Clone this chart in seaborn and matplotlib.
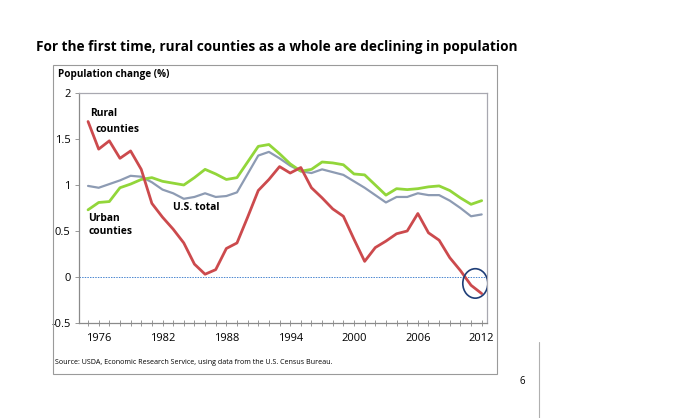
import numpy as np
import pandas as pd
import seaborn as sns
import matplotlib.pyplot as plt
from matplotlib.patches import Ellipse, Rectangle
from matplotlib.lines import Line2D

# DATA
years = list(range(1975, 2013))
rural = [1.69, 1.39, 1.48, 1.29, 1.37, 1.17, 0.80, 0.65, 0.52, 0.37,
         0.14, 0.03, 0.08, 0.31, 0.37, 0.65, 0.94, 1.06, 1.20, 1.13,
         1.19, 0.97, 0.86, 0.74, 0.66, 0.41, 0.17, 0.32, 0.39, 0.47,
         0.50, 0.69, 0.48, 0.40, 0.21, 0.07, -0.09, -0.18]
urban = [0.73, 0.81, 0.82, 0.97, 1.01, 1.06, 1.08, 1.04, 1.02, 1.00,
         1.08, 1.17, 1.12, 1.06, 1.08, 1.25, 1.42, 1.44, 1.34, 1.23,
         1.15, 1.17, 1.25, 1.24, 1.22, 1.12, 1.11, 1.00, 0.89, 0.96,
         0.95, 0.96, 0.98, 0.99, 0.94, 0.86, 0.79, 0.83]
us_total = [0.99, 0.97, 1.01, 1.05, 1.10, 1.09, 1.03, 0.95, 0.91, 0.85,
            0.87, 0.91, 0.87, 0.88, 0.92, 1.12, 1.32, 1.36, 1.29, 1.21,
            1.15, 1.13, 1.17, 1.14, 1.11, 1.04, 0.97, 0.89, 0.81, 0.87,
            0.87, 0.91, 0.89, 0.89, 0.83, 0.75, 0.66, 0.68]
year_labels = [1976, 1982, 1988, 1994, 2000, 2006, 2012]
y_ticks = [-0.5, 0, 0.5, 1, 1.5, 2]

df = pd.DataFrame({
    "year": years * 3,
    "change": us_total + urban + rural,
    "group": ["U.S. total"] * len(years) + ["Urban"] * len(years) + ["Rural"] * len(years),
})
palette = {"U.S. total": "#8D9BB3", "Urban": "#92D63A", "Rural": "#CC4A4D"}

sns.set_style("white")
plt.rcParams["font.family"] = ["Open Sans", "DejaVu Sans"]
plt.rcParams["text.color"] = "black"
plt.rcParams["xtick.color"] = "black"
plt.rcParams["ytick.color"] = "black"

W, H = 690, 418
fig = plt.figure(figsize=(W / 100, H / 100), dpi=100)
ax = fig.add_axes([79 / W, 1 - 323 / H, (487 - 79) / W, (323 - 93) / H])

sns.lineplot(data=df, x="year", y="change", hue="group", palette=palette,
             linewidth=2, ax=ax, legend=False)
ax.lines[0].set_linewidth(1.6)

ax.axhline(0, color="#4A86D0", lw=0.7, ls=(0, (1.5, 1.2)), zorder=1)
ax.add_patch(Ellipse((2011.4, -0.07), 2.35, 0.32, fill=False,
                     edgecolor="#1F3E78", lw=1.2, zorder=5))

ax.set_xlim(1974.15, 2012.5)
ax.set_ylim(-0.5, 2)
ax.set_xticks(year_labels)
ax.set_xticklabels([str(y) for y in year_labels], fontsize=8)
ax.set_xticks(years, minor=True)
ax.set_yticks(y_ticks)
ax.set_yticklabels(["-0.5", "0", "0.5", "1", "1.5", "2"], fontsize=8)
ax.tick_params(axis="x", which="both", direction="inout", length=4, width=0.6,
               color="#888888", labelcolor="black", pad=5, bottom=True)
ax.tick_params(axis="y", direction="out", length=3, width=0.6, color="#888888",
               labelcolor="black", pad=3, left=True)
ax.set_xlabel("")
ax.set_ylabel("")
for side in ["left", "bottom"]:
    ax.spines[side].set_color("#8A8A8A")
    ax.spines[side].set_linewidth(0.9)
for side in ["top", "right"]:
    ax.spines[side].set_color("#A8A8B0")
    ax.spines[side].set_linewidth(0.9)

# labels on the lines
lab = dict(fontsize=7.4, fontweight="bold", va="center")
ax.text(1975.2, 1.78, "Rural", **lab)
ax.text(1975.7, 1.60, "counties", **lab)
ax.text(1975.0, 0.64, "Urban", **lab)
ax.text(1975.0, 0.49, "counties", **lab)
ax.text(1983.0, 0.75, "U.S. total", **lab)

# slide furniture
fig.text(36 / W, 1 - 47 / H, "For the first time, rural counties as a whole are declining in population",
         fontsize=9.8, fontweight="bold", va="center")
fig.text(58 / W, 1 - 74 / H, "Population change (%)", fontsize=7.2, fontweight="bold", va="center")
fig.text(55 / W, 1 - 362 / H,
         "Source: USDA, Economic Research Service, using data from the U.S. Census Bureau.",
         fontsize=5.1, va="center")
fig.text(520 / W, 1 - 381 / H, "6", fontsize=7, va="center")
fig.add_artist(Rectangle((53 / W, 1 - 374 / H), (497 - 53) / W, (374 - 65) / H,
                         transform=fig.transFigure, fill=False, edgecolor="#9A9A9A", lw=0.8))
fig.add_artist(Line2D([539 / W, 539 / W], [0, 1 - 342 / H], transform=fig.transFigure,
                      color="#B0B0B0", lw=0.8))

fig.savefig("out.png", dpi=100)
